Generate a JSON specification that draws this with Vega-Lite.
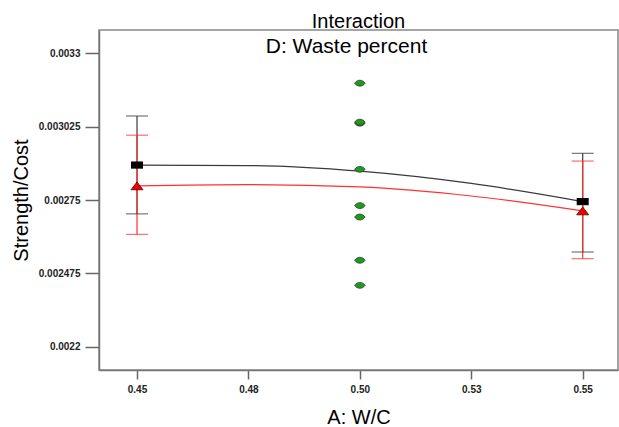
{
  "$schema": "https://vega.github.io/schema/vega-lite/v6.json",
  "autosize": {"type": "none"},
  "padding": {"left": 99, "top": 30, "right": 1, "bottom": 57},
  "width": 519,
  "height": 340,
  "background": "white",
  "config": {
    "font": "Liberation Sans",
    "view": {"stroke": "#888888", "strokeWidth": 1.5},
    "axis": {"grid": false}
  },
  "title": {
    "text": "Interaction",
    "fontSize": 20,
    "fontWeight": "normal",
    "font": "Liberation Sans",
    "color": "black",
    "frame": "group",
    "anchor": "middle",
    "baseline": "bottom",
    "offset": 0,
    "dy": 22
  },
  "datasets": {
    "means": [
      {"x": 0.45, "series": "low", "y": 0.002881, "lo": 0.002698, "hi": 0.003065},
      {"x": 0.55, "series": "low", "y": 0.002744, "lo": 0.002555, "hi": 0.002925},
      {"x": 0.45, "series": "high", "y": 0.002803, "lo": 0.002621, "hi": 0.002993},
      {"x": 0.55, "series": "high", "y": 0.002709, "lo": 0.00253, "hi": 0.002896}
    ],
    "curves": [
      {"x": 0.45, "series": "low", "y": 0.002881},
      {"x": 0.475, "series": "low", "y": 0.002879},
      {"x": 0.5, "series": "low", "y": 0.002858},
      {"x": 0.525, "series": "low", "y": 0.002812},
      {"x": 0.55, "series": "low", "y": 0.002744},
      {"x": 0.45, "series": "high", "y": 0.002803},
      {"x": 0.475, "series": "high", "y": 0.002808},
      {"x": 0.5, "series": "high", "y": 0.002799},
      {"x": 0.525, "series": "high", "y": 0.002765},
      {"x": 0.55, "series": "high", "y": 0.002709}
    ],
    "obs": [
      {"x": 0.5, "y": 0.003188},
      {"x": 0.5, "y": 0.003038},
      {"x": 0.5, "y": 0.003042},
      {"x": 0.5, "y": 0.002865},
      {"x": 0.5, "y": 0.002729},
      {"x": 0.5, "y": 0.002686},
      {"x": 0.5, "y": 0.002524},
      {"x": 0.5, "y": 0.00243}
    ],
    "labels": [
      {"x": 0.497, "y": 0.0033, "label": "D: Waste percent"}
    ]
  },
  "encoding": {
    "x": {
      "field": "x", "type": "quantitative",
      "scale": {"domain": [0.44147, 0.55792], "nice": false, "zero": false},
      "axis": {
        "values": [0.45, 0.475, 0.5, 0.525, 0.55],
        "labelExpr": "format(datum.value + 1e-9, '.2f')",
        "title": "A: W/C",
        "titleFontSize": 20, "titleFontWeight": "normal", "titleColor": "black",
        "titlePadding": 13,
        "labelFontSize": 10, "labelFontWeight": "bold", "labelColor": "#222222",
        "labelPadding": 5,
        "tickSize": 9, "tickColor": "#666666", "tickWidth": 1.5,
        "domainColor": "#777777", "domainWidth": 1.5
      }
    },
    "y": {
      "field": "y", "type": "quantitative",
      "scale": {"domain": [0.0021126, 0.0033874], "nice": false, "zero": false},
      "axis": {
        "values": [0.0022, 0.002475, 0.00275, 0.003025, 0.0033],
        "labelExpr": "format(datum.value, '.6~g')",
        "title": "Strength/Cost",
        "titleFontSize": 20, "titleFontWeight": "normal", "titleColor": "black",
        "titlePadding": 7,
        "labelFontSize": 10, "labelFontWeight": "bold", "labelColor": "#222222",
        "labelPadding": 5,
        "tickSize": 14, "tickColor": "#666666", "tickWidth": 1.5,
        "domainColor": "#777777", "domainWidth": 1.5
      }
    }
  },
  "layer": [
    {
      "data": {"name": "means"},
      "mark": {"type": "rule", "strokeWidth": 1.2},
      "encoding": {
        "y": {"field": "lo", "type": "quantitative"},
        "y2": {"field": "hi"},
        "color": {"field": "series", "type": "nominal", "scale": {"domain": ["low", "high"], "range": ["#3a3a3a", "#ff3030"]}, "legend": null}
      }
    },
    {
      "data": {"name": "means"},
      "mark": {"type": "tick", "orient": "horizontal", "size": 22, "thickness": 1.2},
      "encoding": {
        "y": {"field": "hi", "type": "quantitative"},
        "color": {"field": "series", "type": "nominal", "legend": null}
      }
    },
    {
      "data": {"name": "means"},
      "mark": {"type": "tick", "orient": "horizontal", "size": 22, "thickness": 1.2},
      "encoding": {
        "y": {"field": "lo", "type": "quantitative"},
        "color": {"field": "series", "type": "nominal", "legend": null}
      }
    },
    {
      "data": {"name": "curves"},
      "mark": {"type": "line", "interpolate": "monotone", "strokeWidth": 1.2},
      "encoding": {
        "color": {"field": "series", "type": "nominal", "legend": null},
        "detail": {"field": "series"}
      }
    },
    {
      "data": {"name": "obs"},
      "mark": {"type": "point", "filled": true, "shape": "M-1,0C-0.5,-0.75 0.5,-0.75 1,0C0.5,0.75 -0.5,0.75 -1,0Z", "size": 110, "fill": "#1e9a1e", "stroke": "#2a3a2a", "strokeWidth": 0.8, "opacity": 1}
    },
    {
      "data": {"name": "means"},
      "transform": [{"filter": "datum.series == 'low'"}],
      "mark": {"type": "point", "filled": true, "shape": "M-1,-0.6H1V0.6H-1Z", "size": 144, "fill": "black", "opacity": 1}
    },
    {
      "data": {"name": "means"},
      "transform": [{"filter": "datum.series == 'high'"}],
      "mark": {"type": "point", "filled": true, "shape": "M0,-0.65L1,0.65H-1Z", "size": 144, "fill": "#ee0000", "stroke": "#550000", "strokeWidth": 0.8, "opacity": 1}
    },
    {
      "data": {"name": "labels"},
      "mark": {"type": "text", "fontSize": 21, "baseline": "alphabetic", "align": "center", "color": "black", "font": "Liberation Sans"},
      "encoding": {
        "text": {"field": "label", "type": "nominal"}
      }
    }
  ]
}
